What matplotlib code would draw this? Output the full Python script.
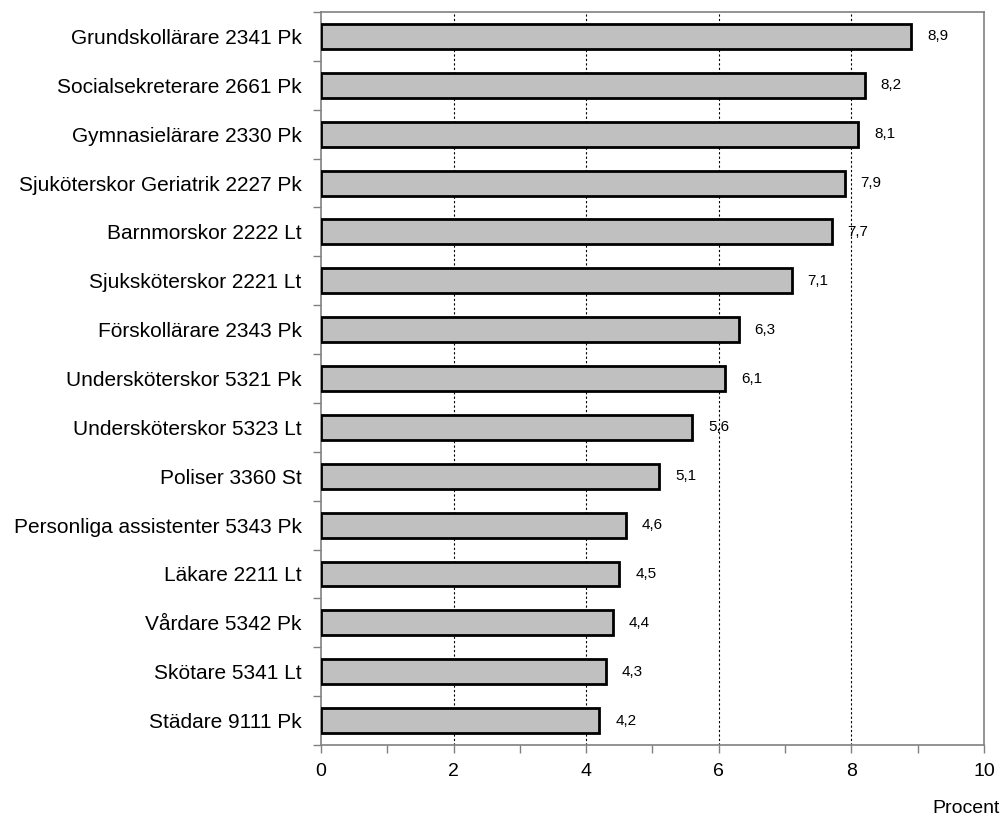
import matplotlib
matplotlib.use('Agg')
import matplotlib.pyplot as plt
import numpy as np

plt.rcParams['font.family'] = ['Liberation Sans', 'DejaVu Sans']

categories = ['Grundskollärare 2341 Pk', 'Socialsekreterare 2661 Pk', 'Gymnasielärare 2330 Pk',
              'Sjuköterskor Geriatrik 2227 Pk', 'Barnmorskor 2222 Lt', 'Sjuksköterskor 2221 Lt',
              'Förskollärare 2343 Pk', 'Undersköterskor 5321 Pk', 'Undersköterskor 5323 Lt',
              'Poliser 3360 St', 'Personliga assistenter 5343 Pk', 'Läkare 2211 Lt',
              'Vårdare 5342 Pk', 'Skötare 5341 Lt', 'Städare 9111 Pk']
values = [8.9, 8.2, 8.1, 7.9, 7.7, 7.1, 6.3, 6.1, 5.6, 5.1, 4.6, 4.5, 4.4, 4.3, 4.2]
x_ticks = [0, 2, 4, 6, 8, 10]

fig = plt.figure(figsize=(10.05, 8.18), dpi=100)
ax = fig.add_axes([0.3194, 0.0892, 0.6597, 0.8961])

n = len(categories)
y = np.arange(n)[::-1]
ax.barh(y, values, height=0.51, color='#c0c0c0', edgecolor='black', linewidth=2, zorder=3)
for yi, v in zip(y, values):
    ax.text(v + 0.24, yi, f'{v:.1f}'.replace('.', ','), va='center', ha='left', fontsize=11, zorder=4)

ax.set_xlim(0, 10)
ax.set_ylim(-0.5, n - 0.5)
ax.set_xticks(x_ticks)
ax.set_xticklabels([str(t) for t in x_ticks], fontsize=14)
ax.set_xticks(np.arange(1, 10, 2), minor=True)
ax.set_yticks(np.arange(-0.5, n, 1))
ax.set_yticklabels([])
ax.set_yticks(y, minor=True)
ax.set_yticklabels(categories, minor=True, fontsize=15)
ax.tick_params(axis='y', which='minor', length=0, pad=14)
ax.tick_params(axis='y', which='major', length=6, color='#808080', width=1)
ax.tick_params(axis='x', which='both', length=6, color='#808080', width=1, pad=7)

for t in [2, 4, 6, 8]:
    ax.axvline(t, color='black', linestyle=(0, (2, 2)), linewidth=0.8, zorder=1)

for s in ax.spines.values():
    s.set_color('#808080')
    s.set_linewidth(1.2)

fig.text(0.995, 0.012, 'Procent', ha='right', va='center', fontsize=14)

fig.savefig('out.png', dpi=100)
